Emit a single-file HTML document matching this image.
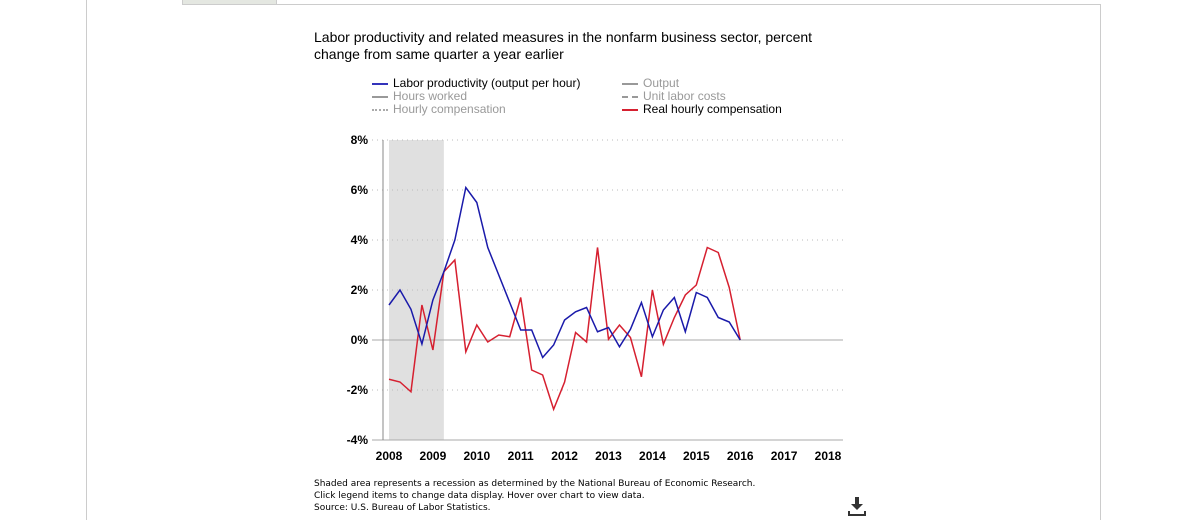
<!DOCTYPE html>
<html><head><meta charset="utf-8"><style>
body{margin:0;width:1192px;height:520px;background:#fff;font-family:"Liberation Sans",Arial,sans-serif;position:relative;overflow:hidden}
.abs{position:absolute}
.t{font-size:14px;color:#000;line-height:17px}
.lg{font-size:12px;line-height:13px;white-space:nowrap}
.note{font-family:"DejaVu Sans",sans-serif;font-size:9px;line-height:12px;color:#000}
</style></head><body>
<div class="abs" style="left:86px;top:0;width:1px;height:520px;background:#ccc"></div>
<div class="abs" style="left:182px;top:4px;width:919px;height:1px;background:#ccc"></div>
<div class="abs" style="left:1100px;top:4px;width:1px;height:516px;background:#ccc"></div>
<div class="abs" style="left:182px;top:0;width:93px;height:4px;background:#e4e7e1;border:1px solid #ccc;border-top:none"></div>
<div class="abs t" style="left:314px;top:29px">Labor productivity and related measures in the nonfarm business sector, percent<br>change from same quarter a year earlier</div>
<div>
<div class="abs lg" style="left:372px;top:77px"><span style="display:inline-block;width:16px;height:2px;background:#3333bb;vertical-align:middle;margin-right:5px"></span>Labor productivity (output per hour)</div>
<div class="abs lg" style="left:372px;top:90px;color:#999"><span style="display:inline-block;width:16px;height:2px;background:#999;vertical-align:middle;margin-right:5px"></span>Hours worked</div>
<div class="abs lg" style="left:372px;top:103px;color:#999"><span style="display:inline-block;width:16px;border-top:2px dotted #aaa;vertical-align:middle;margin-right:5px"></span>Hourly compensation</div>
<div class="abs lg" style="left:622px;top:77px;color:#999"><span style="display:inline-block;width:16px;height:2px;background:#999;vertical-align:middle;margin-right:5px"></span>Output</div>
<div class="abs lg" style="left:622px;top:90px;color:#999"><span style="display:inline-block;width:16px;border-top:2px dashed #999;vertical-align:middle;margin-right:5px"></span>Unit labor costs</div>
<div class="abs lg" style="left:622px;top:103px"><span style="display:inline-block;width:16px;height:2px;background:#d62030;vertical-align:middle;margin-right:5px"></span>Real hourly compensation</div>
</div>
<svg class="abs" id="chart" style="left:0;top:0" width="1192" height="520"></svg>
<div class="abs note" style="left:314px;top:478px">Shaded area represents a recession as determined by the National Bureau of Economic Research.<br>Click legend items to change data display. Hover over chart to view data.<br>Source: U.S. Bureau of Labor Statistics.</div>
<svg class="abs" style="left:848px;top:496px" width="18" height="20"><path d="M7 1h4v7h4l-6 6-6-6h4z" fill="#333"/><path d="M1 15v4h16v-4" stroke="#333" stroke-width="2" fill="none"/></svg>
<script>
const years=[2008,2009,2010,2011,2012,2013,2014,2015,2016,2017,2018];
const yTicks=[8,6,4,2,0,-2,-4];
const laborProductivity=[1.4,2.0,1.23,-0.16,1.6,2.73,4.0,6.1,5.5,3.7,2.6,1.5,0.4,0.4,-0.7,-0.2,0.8,1.13,1.3,0.33,0.5,-0.27,0.43,1.5,0.13,1.2,1.7,0.33,1.9,1.7,0.9,0.72,0];
const realHourlyComp=[-1.57,-1.68,-2.07,1.4,-0.4,2.73,3.2,-0.47,0.6,-0.08,0.2,0.13,1.7,-1.2,-1.4,-2.77,-1.68,0.3,-0.08,3.7,0.03,0.6,0.1,-1.47,2.0,-0.17,0.9,1.8,2.2,3.7,3.5,2.1,0];
const recession=[2008.0,2009.25];
const NS="http://www.w3.org/2000/svg";
const svg=document.getElementById('chart');
const x=t=>389+(t-2008)*43.9;
const y=v=>340-v*25;
function mk(tag,attrs){const e=document.createElementNS(NS,tag);for(const k in attrs)e.setAttribute(k,attrs[k]);svg.appendChild(e);return e;}
let r=mk('rect',{x:x(recession[0]),y:y(8),width:x(recession[1])-x(recession[0]),height:y(-4)-y(8),fill:'#e0e0e0'});


yTicks.forEach(v=>{
 const l=mk('line',{x1:372,x2:843,y1:y(v),y2:y(v),stroke:v===0||v===-4?'#aaa':'#bbb','stroke-width':1,'stroke-dasharray':(v===0||v===-4)?'':'1,4'});
 
 
 const t=mk('text',{x:368,y:y(v)+4,'text-anchor':'end','font-size':12,'font-weight':'bold','font-family':'Liberation Sans, sans-serif',fill:'#000'});
 t.textContent=v+'%';
 
 
});
let ax=mk('line',{x1:383,x2:383,y1:y(8),y2:y(-4),stroke:'#888','stroke-width':1});


years.forEach(yr=>{
 const t=mk('text',{x:x(yr),y:460,'text-anchor':'middle','font-size':12,'font-weight':'bold','font-family':'Liberation Sans, sans-serif',fill:'#000'});
 t.textContent=yr;
 
 
});
function series(arr,color,name){
 const pts=arr.map((v,i)=>x(2008+i*0.25)+','+y(v)).join(' ');
 const p=mk('polyline',{points:pts,fill:'none',stroke:color,'stroke-width':1.5,'stroke-linejoin':'miter'});
 
 
}
series(realHourlyComp,'#d62030','real-hourly-compensation-line');
series(laborProductivity,'#1a1aaa','labor-productivity-line');
</script>
</body></html>
